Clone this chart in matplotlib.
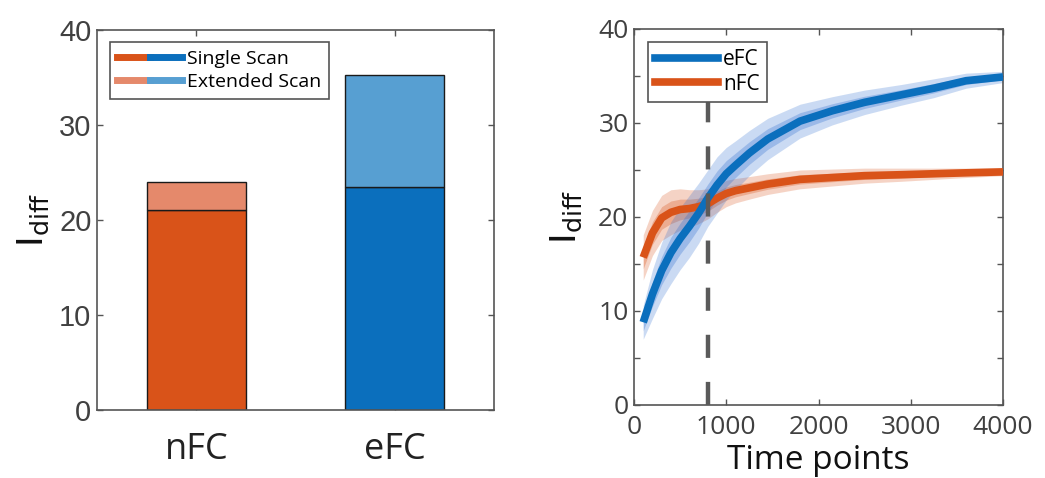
import matplotlib
matplotlib.use("Agg")
import matplotlib.pyplot as plt
from matplotlib.lines import Line2D
from matplotlib.legend_handler import HandlerTuple

# ---------------- data ----------------
categories = ["nFC", "eFC"]
single_scan = [21.05, 23.5]
extended_scan = [24.0, 35.3]

time_points = [100, 200, 300, 400, 500, 600, 700, 800, 900, 1000, 1100, 1250,
               1450, 1800, 2150, 2500, 2900, 3250, 3600, 4000]
efc_mean = [8.8, 11.8, 14.3, 16.2, 17.7, 19.0, 20.4, 22.0, 23.4, 24.6, 25.5,
            26.8, 28.3, 30.2, 31.3, 32.2, 33.0, 33.7, 34.5, 34.9]
nfc_mean = [15.7, 18.3, 19.9, 20.5, 20.8, 20.9, 21.1, 21.4, 22.0, 22.5, 22.8,
            23.1, 23.5, 24.0, 24.2, 24.4, 24.5, 24.6, 24.7, 24.8]
efc_spread = [1.8, 2.6, 3.0, 3.3, 3.3, 3.3, 3.2, 3.0, 3.0, 2.8, 2.6, 2.4,
              2.2, 1.8, 1.5, 1.3, 1.1, 1.0, 0.8, 0.6]
nfc_spread = [2.4, 2.4, 2.4, 2.4, 2.2, 2.0, 1.8, 1.6, 1.5, 1.4, 1.3, 1.2,
              1.1, 1.0, 0.9, 0.8, 0.7, 0.6, 0.5, 0.4]
split_time = 800

# ---------------- style ----------------
ORANGE = "#D95319"
ORANGE_L = "#E5896B"
BLUE = "#0B6FBD"
BLUE_L = "#579FD2"
SPINE = "#555555"
TICKC = "#404040"

plt.rcParams["mathtext.fontset"] = "custom"
plt.rcParams["mathtext.rm"] = "Open Sans"
plt.rcParams["mathtext.it"] = "Open Sans"

fig = plt.figure(figsize=(10.45, 4.78), dpi=100)
ax1 = fig.add_axes([97 / 1045, 1 - 410 / 478, 397 / 1045, 380 / 478])
ax2 = fig.add_axes([634 / 1045, 1 - 405 / 478, 369 / 1045, 376 / 478])

# ---------------- left: bars ----------------
x = [1, 2]
single_cols = [ORANGE, BLUE]
ext_cols = [ORANGE_L, BLUE_L]
ext_heights = [e - s for e, s in zip(extended_scan, single_scan)]
ax1.bar(x, single_scan, width=0.5, color=single_cols, edgecolor="#1a1a1a", linewidth=1.0, zorder=2)
ax1.bar(x, ext_heights, bottom=single_scan, width=0.5, color=ext_cols,
        edgecolor="#1a1a1a", linewidth=1.0, zorder=2)
ax1.set_xlim(0.5, 2.5)
ax1.set_ylim(0, 40)
ax1.set_yticks([0, 10, 20, 30, 40])
ax1.set_xticks(x)
ax1.set_xticklabels(categories, fontsize=26, family="Open Sans", color="#222222")
ax1.tick_params(axis="y", labelsize=21, colors=SPINE, labelcolor=TICKC, direction="in",
                length=4, width=1, left=True, right=True, pad=4)
ax1.tick_params(axis="x", colors=SPINE, labelcolor="#222222", direction="in",
                length=4, width=1, bottom=True, top=True, pad=16)
for lab in ax1.get_yticklabels():
    lab.set_family("Liberation Sans")
for s in ax1.spines.values():
    s.set_color(SPINE)
    s.set_linewidth(1.2)
ax1.set_ylabel(r"$\mathregular{I_{diff}}$", fontsize=26, color="#111111", labelpad=6)

h1 = (Line2D([], [], color=ORANGE, lw=5), Line2D([], [], color=BLUE, lw=5))
h2 = (Line2D([], [], color=ORANGE_L, lw=5), Line2D([], [], color=BLUE_L, lw=5))
leg1 = ax1.legend([h1, h2], ["Single Scan", "Extended Scan"],
                  handler_map={tuple: HandlerTuple(ndivide=None, pad=0)},
                  loc="upper left", bbox_to_anchor=(0.032, 0.968),
                  prop={"family": "Open Sans", "size": 14}, handlelength=3.3,
                  handletextpad=0.25, borderpad=0.4, labelspacing=0.25,
                  fancybox=False, framealpha=1, edgecolor=SPINE, borderaxespad=0)
leg1.get_frame().set_linewidth(1.2)

# ---------------- right: curves ----------------
nlo = [m - s for m, s in zip(nfc_mean, nfc_spread)]
nhi = [m + s for m, s in zip(nfc_mean, nfc_spread)]
elo = [m - s for m, s in zip(efc_mean, efc_spread)]
ehi = [m + s for m, s in zip(efc_mean, efc_spread)]
nlo2 = [m - 0.5 * s for m, s in zip(nfc_mean, nfc_spread)]
nhi2 = [m + 0.5 * s for m, s in zip(nfc_mean, nfc_spread)]
elo2 = [m - 0.5 * s for m, s in zip(efc_mean, efc_spread)]
ehi2 = [m + 0.5 * s for m, s in zip(efc_mean, efc_spread)]

ax2.fill_between(time_points, nlo, nhi, color=ORANGE, alpha=0.25, lw=0, zorder=1)
ax2.fill_between(time_points, nlo2, nhi2, color=ORANGE, alpha=0.3, lw=0, zorder=1)
ax2.fill_between(time_points, elo, ehi, color="#2f6fd0", alpha=0.25, lw=0, zorder=2)
ax2.fill_between(time_points, elo2, ehi2, color="#2f6fd0", alpha=0.3, lw=0, zorder=2)
ax2.plot(time_points, nfc_mean, color=ORANGE, lw=5.5, solid_capstyle="butt",
         solid_joinstyle="round", zorder=3)
ax2.plot(time_points, efc_mean, color=BLUE, lw=5.5, solid_capstyle="butt",
         solid_joinstyle="round", zorder=4)
ax2.plot([split_time, split_time], [0, 40], color="#5a5a5a", lw=3.2,
         dashes=(5.2, 5.4), zorder=5)

ax2.set_xlim(0, 4000)
ax2.set_ylim(0, 40)
ax2.set_xticks([0, 1000, 2000, 3000, 4000])
ax2.set_yticks([0, 10, 20, 30, 40])
ax2.set_yticks([5, 15, 25, 35], minor=True)
ax2.tick_params(axis="both", which="both", labelsize=19, colors=SPINE, labelcolor=TICKC,
                direction="in", length=4, width=1, left=True, right=True,
                bottom=True, top=True)
ax2.tick_params(axis="x", pad=7)
ax2.tick_params(axis="y", pad=4)
for lab in ax2.get_xticklabels() + ax2.get_yticklabels():
    lab.set_family("Open Sans")
for s in ax2.spines.values():
    s.set_color(SPINE)
    s.set_linewidth(1.2)
ax2.set_xlabel("Time points", fontsize=24, family="Open Sans", color="#111111", labelpad=3)
ax2.set_ylabel(r"$\mathregular{I_{diff}}$", fontsize=26, color="#111111", labelpad=10)

leg2 = ax2.legend([Line2D([], [], color=BLUE, lw=5.5), Line2D([], [], color=ORANGE, lw=5.5)],
                  ["eFC", "nFC"], loc="upper left", bbox_to_anchor=(0.038, 0.965),
                  prop={"family": "Open Sans", "size": 15}, handlelength=3.0,
                  handletextpad=0.25, borderpad=0.35, labelspacing=0.15,
                  fancybox=False, framealpha=1, edgecolor=SPINE, borderaxespad=0)
leg2.get_frame().set_linewidth(1.2)

fig.savefig("out.png", dpi=100, facecolor="white")
